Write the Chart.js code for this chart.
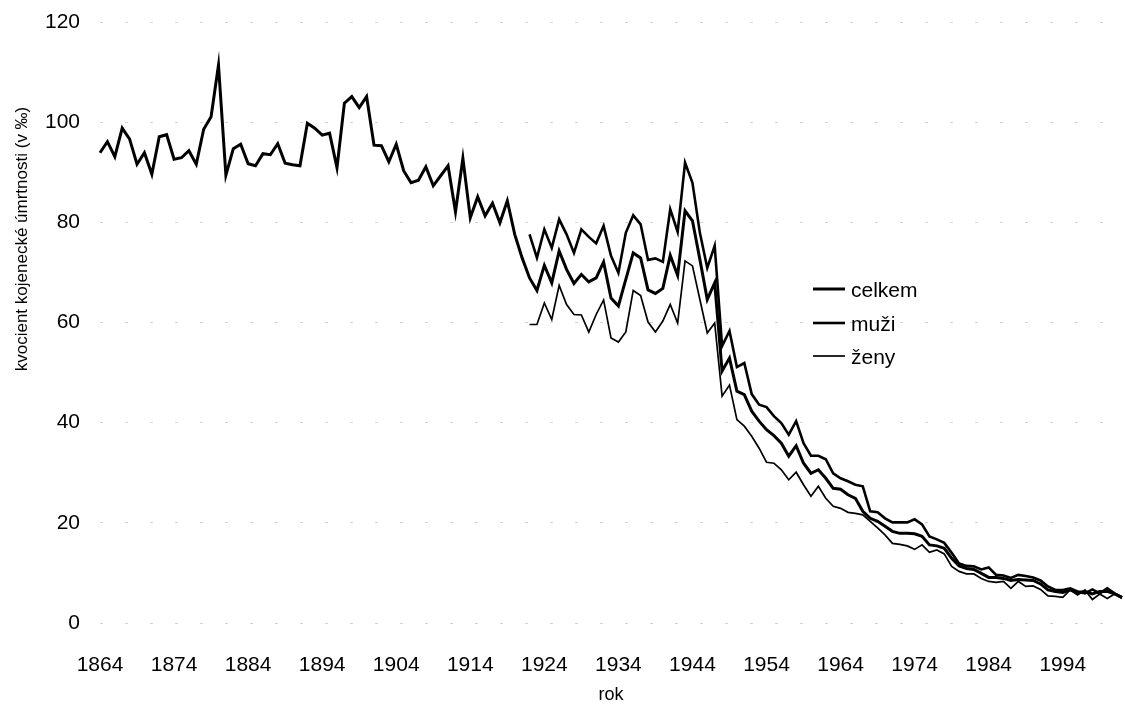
<!DOCTYPE html>
<html>
<head>
<meta charset="utf-8">
<script src="https://cdn.jsdelivr.net/npm/chart.js@4"></script>
<style>
    body { margin: 0; background: #fff; }
    #chart { display: block; }
</style>
</head>
<body>
<canvas id="chart" width="1125" height="706"></canvas>
<script>
const years = [
    1864, 1865, 1866, 1867, 1868, 1869, 1870, 1871, 1872, 1873,
    1874, 1875, 1876, 1877, 1878, 1879, 1880, 1881, 1882, 1883,
    1884, 1885, 1886, 1887, 1888, 1889, 1890, 1891, 1892, 1893,
    1894, 1895, 1896, 1897, 1898, 1899, 1900, 1901, 1902, 1903,
    1904, 1905, 1906, 1907, 1908, 1909, 1910, 1911, 1912, 1913,
    1914, 1915, 1916, 1917, 1918, 1919, 1920, 1921, 1922, 1923,
    1924, 1925, 1926, 1927, 1928, 1929, 1930, 1931, 1932, 1933,
    1934, 1935, 1936, 1937, 1938, 1939, 1940, 1941, 1942, 1943,
    1944, 1945, 1946, 1947, 1948, 1949, 1950, 1951, 1952, 1953,
    1954, 1955, 1956, 1957, 1958, 1959, 1960, 1961, 1962, 1963,
    1964, 1965, 1966, 1967, 1968, 1969, 1970, 1971, 1972, 1973,
    1974, 1975, 1976, 1977, 1978, 1979, 1980, 1981, 1982, 1983,
    1984, 1985, 1986, 1987, 1988, 1989, 1990, 1991, 1992, 1993,
    1994, 1995, 1996, 1997, 1998, 1999, 2000, 2001, 2002
];

const tickYears = [1864, 1874, 1884, 1894, 1904, 1914, 1924, 1934, 1944, 1954, 1964, 1974, 1984, 1994];

// celkem 1864-2002
const celkem = [
    93.9, 96.1, 93.1, 98.8, 96.6, 91.6, 93.9, 89.6, 97.1, 97.5,
    92.6, 92.9, 94.3, 91.6, 98.6, 101.1, 111.4, 89.4, 94.7, 95.6,
    91.7, 91.3, 93.7, 93.5, 95.7, 91.8, 91.5, 91.3, 99.8, 98.8,
    97.4, 97.8, 90.9, 103.8, 105.1, 102.9, 105.1, 95.4, 95.3, 92.1,
    95.6, 90.3, 87.9, 88.4, 91.1, 87.3, 89.3, 91.3, 82.1, 92.8,
    80.9, 85.1, 81.3, 83.8, 79.9, 84.3, 77.6, 72.9, 68.9, 66.4,
    71.4, 67.9, 74.3, 70.6, 67.8, 69.6, 68.1, 68.9, 72.1, 64.9,
    63.3, 68.6, 73.9, 72.9, 66.5, 65.8, 66.8, 73.4, 69.4, 82.3,
    80.3, 72.6, 64.6, 67.9, 50.3, 52.9, 46.3, 45.6, 42.3, 40.3,
    38.6, 37.4, 35.9, 33.3, 35.4, 31.9, 29.9, 30.6, 28.9, 26.9,
    26.7, 25.6, 24.9, 22.3, 20.9, 20.3, 19.3, 18.3, 17.9, 17.9,
    17.8, 17.3, 15.6, 15.4, 14.9, 12.9, 11.4, 10.9, 10.7, 9.9,
    9.1, 9.1, 8.9, 8.5, 8.7, 8.6, 8.5, 7.8, 6.6, 6.3,
    6.1, 6.6, 6.1, 6.3, 5.8, 6.3, 6.3, 5.8, 5.1
];

// muži and ženy start in 1922
const sexFromYear = 1922;

const muzi = [
    77.6, 72.9,
    78.6, 74.9, 80.6, 77.6, 73.9, 78.6, 77.1, 75.8, 79.3, 73.3,
    69.9, 77.9, 81.4, 79.6, 72.5, 72.8, 72.1, 82.6, 78.1, 91.9,
    87.9, 77.9, 70.9, 75.3, 55.3, 58.3, 51.1, 51.9, 45.7, 43.6,
    43.1, 41.3, 39.9, 37.6, 40.3, 35.9, 33.4, 33.4, 32.7, 29.9,
    28.9, 28.3, 27.6, 27.3, 22.3, 22.1, 20.9, 20.1, 20.1, 20.1,
    20.7, 19.7, 17.3, 16.7, 16.0, 14.0, 11.9, 11.4, 11.3, 10.7,
    11.1, 9.6, 9.5, 9.0, 9.6, 9.4, 9.1, 8.5, 7.3, 6.6,
    6.6, 6.9, 6.3, 5.9, 6.7, 5.9, 6.9, 5.9, 5.1
];

const zeny = [
    59.6, 59.6,
    63.9, 60.6, 67.4, 63.6, 61.6, 61.5, 58.1, 61.6, 64.5, 56.9,
    56.1, 58.1, 66.4, 65.4, 60.1, 58.1, 60.3, 63.6, 59.9, 72.3,
    71.3, 64.6, 57.9, 59.9, 45.3, 47.5, 40.6, 39.3, 37.3, 34.9,
    32.1, 31.9, 30.6, 28.6, 30.1, 27.6, 25.3, 27.3, 24.9, 23.3,
    22.9, 22.1, 21.9, 21.6, 20.3, 19.0, 17.6, 15.9, 15.7, 15.4,
    14.7, 15.6, 14.1, 14.6, 13.8, 11.3, 10.3, 9.8, 9.8, 8.9,
    8.3, 8.1, 8.3, 6.9, 8.3, 7.3, 7.4, 6.7, 5.4, 5.3,
    5.1, 6.6, 5.6, 6.6, 4.7, 5.8, 4.9, 5.8, 4.9
];

const seriesNames = ["celkem", "muži", "ženy"];
const yTitle = "kvocient kojenecké úmrtnosti (v ‰)";
const xTitle = "rok";

const FONT = "'Liberation Sans', Arial, sans-serif";

function bySex(values) {
    return years.map(y =>
        y < sexFromYear ? null : values[y - sexFromYear]
    );
}

// legend and rotated y title drawn by hand, placed like the original
const extras = {
    id: "extras",
    afterDraw(chart) {
        const ctx = chart.ctx;
        ctx.save();

        ctx.fillStyle = "#000";
        ctx.font = "17px " + FONT;
        ctx.textAlign = "center";
        ctx.textBaseline = "middle";
        ctx.translate(22, 239);
        ctx.rotate(-Math.PI / 2);
        ctx.fillText(yTitle, 0, 0);
        ctx.setTransform(1, 0, 0, 1, 0, 0);

        const rows = [297, 331, 364];
        ctx.font = "21px " + FONT;
        ctx.textAlign = "left";
        ctx.textBaseline = "alphabetic";
        chart.data.datasets.forEach((ds, i) => {
            const y = rows[i] - 8;
            ctx.strokeStyle = "#000";
            ctx.lineWidth = ds.borderWidth;
            ctx.beginPath();
            ctx.moveTo(813, y);
            ctx.lineTo(845, y);
            ctx.stroke();
            ctx.fillText(ds.label, 851, rows[i]);
        });

        ctx.restore();
    }
};

// keep the plot box where the original has it
function noEdgePadding(s) {
    s.paddingTop = 0;
    s.paddingBottom = 0;
    s.paddingLeft = 0;
    s.paddingRight = 0;
}

new Chart(document.getElementById("chart").getContext("2d"), {
    type: "line",
    data: {
        labels: years,
        datasets: [
            {
                label: seriesNames[0],
                data: celkem,
                borderColor: "#000",
                borderWidth: 3
            },
            {
                label: seriesNames[1],
                data: bySex(muzi),
                borderColor: "#000",
                borderWidth: 2.6
            },
            {
                label: seriesNames[2],
                data: bySex(zeny),
                borderColor: "#000",
                borderWidth: 1.7
            }
        ]
    },
    options: {
        responsive: false,
        animation: false,
        devicePixelRatio: 1,
        layout: {
            padding: { top: 22, right: 3, left: 0, bottom: 0 }
        },
        elements: {
            point: { radius: 0 },
            line: { tension: 0, borderJoinStyle: "miter" }
        },
        plugins: {
            legend: { display: false },
            tooltip: { enabled: false }
        },
        scales: {
            x: {
                type: "category",
                offset: false,
                afterFit: s => {
                    s.height = 83;
                    noEdgePadding(s);
                },
                grid: { display: false },
                border: { display: false },
                ticks: {
                    autoSkip: false,
                    maxRotation: 0,
                    padding: 22,
                    color: "#000",
                    font: { size: 21, family: FONT },
                    callback: function (value) {
                        const y = this.getLabelForValue(value);
                        return tickYears.includes(y) ? String(y) : "";
                    }
                },
                title: {
                    display: true,
                    text: xTitle,
                    color: "#000",
                    font: { size: 18, family: FONT },
                    padding: { top: 0, bottom: 0 }
                }
            },
            y: {
                min: 0,
                max: 120,
                afterFit: s => {
                    s.width = 100;
                    noEdgePadding(s);
                },
                border: { display: false, dash: [3, 22] },
                grid: {
                    drawTicks: false,
                    color: "#d4d4d4",
                    lineWidth: 1
                },
                ticks: {
                    stepSize: 20,
                    padding: 20,
                    color: "#000",
                    font: { size: 21, family: FONT }
                }
            }
        }
    },
    plugins: [extras]
});
</script>
</body>
</html>
